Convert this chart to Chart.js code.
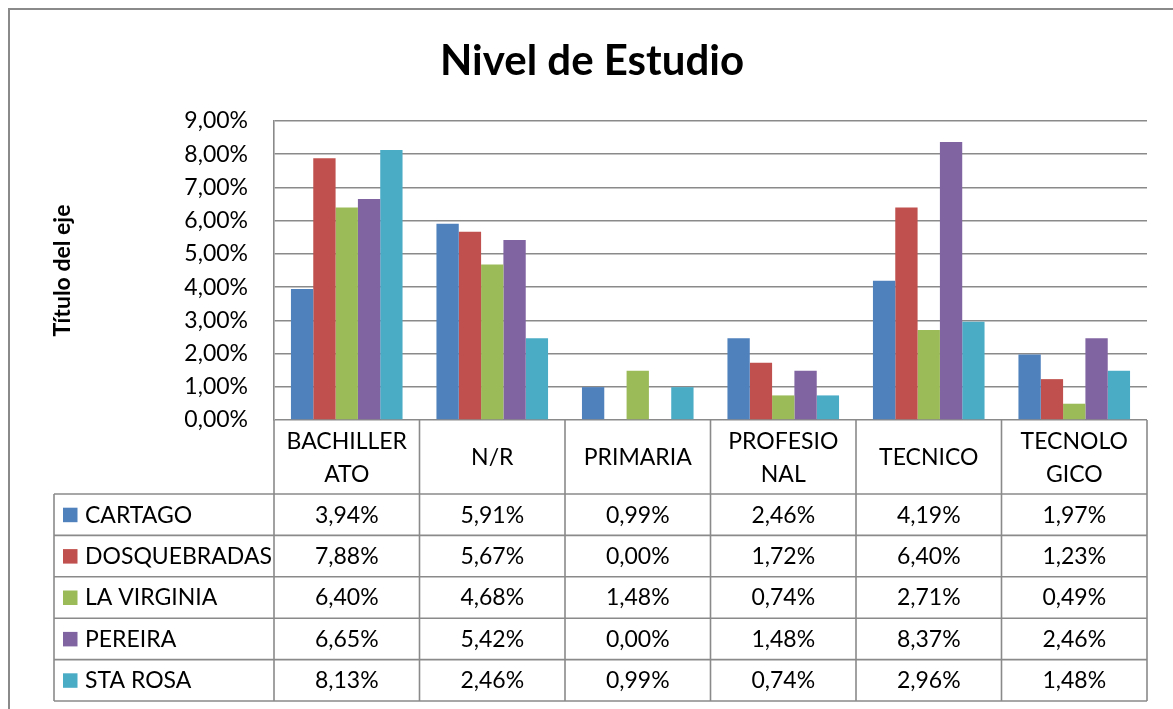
<!DOCTYPE html>
<html>
<head>
<meta charset="utf-8">
<script src="https://cdn.jsdelivr.net/npm/chart.js@4.4.1/dist/chart.umd.min.js"></script>
<style>
  html, body { margin: 0; padding: 0; background: #ffffff; }
  #wrap { width: 1173px; height: 709px; position: relative; }
</style>
</head>
<body>
<div id="wrap"><canvas id="c" width="1173" height="709"></canvas></div>
<script>
// ---- data ----
const chartTitle = "Nivel de Estudio";
const yAxisTitle = "Título del eje";
const categories = [["BACHILLER", "ATO"], ["N/R"], ["PRIMARIA"], ["PROFESIO", "NAL"], ["TECNICO"], ["TECNOLO", "GICO"]];
const seriesNames = ["CARTAGO", "DOSQUEBRADAS", "LA VIRGINIA", "PEREIRA", "STA ROSA"];
const cartago      = [3.94, 5.91, 0.99, 2.46, 4.19, 1.97];
const dosquebradas = [7.88, 5.67, 0.00, 1.72, 6.40, 1.23];
const laVirginia   = [6.40, 4.68, 1.48, 0.74, 2.71, 0.49];
const pereira      = [6.65, 5.42, 0.00, 1.48, 8.37, 2.46];
const staRosa      = [8.13, 2.46, 0.99, 0.74, 2.96, 1.48];
const seriesValues = [cartago, dosquebradas, laVirginia, pereira, staRosa];
const yTickLabels = ["0,00%", "1,00%", "2,00%", "3,00%", "4,00%", "5,00%", "6,00%", "7,00%", "8,00%", "9,00%"];

// ---- styles ----
const colors = ["#4F81BD", "#C0504D", "#9BBB59", "#8064A2", "#4BACC6"];
const lineColor = "#8a8a8a";
const FONT = "Lato, 'Open Sans', sans-serif";
const labelFontSize = 23;

function fmt(v) { return v.toFixed(2).replace(".", ",") + "%"; }

const tablePlugin = {
  id: "excelTable",
  afterDraw(chart) {
    const ctx = chart.ctx;
    const area = chart.chartArea;
    const xs = chart.scales.x;
    const n = categories.length;
    const colW = (area.right - area.left) / n;
    const headerTop = area.bottom;
    const headerBottom = 494;
    const rowH = 41.4;
    const legendLeft = 54;

    ctx.save();
    // outer frame
    ctx.strokeStyle = lineColor;
    ctx.lineWidth = 2;
    ctx.beginPath();
    ctx.moveTo(9, 709);
    ctx.lineTo(9, 9);
    ctx.lineTo(1173, 9);
    ctx.stroke();

    // title
    ctx.fillStyle = "#000";
    ctx.font = "bold 42px " + FONT;
    ctx.textAlign = "center";
    ctx.textBaseline = "middle";
    ctx.fillText(chartTitle, 592, 61);

    // y axis title
    ctx.save();
    ctx.translate(63, (area.top + area.bottom) / 2);
    ctx.rotate(-Math.PI / 2);
    ctx.font = "bold 23px " + FONT;
    ctx.fillText(yAxisTitle, 0, 0);
    ctx.restore();

    // table lines
    ctx.strokeStyle = lineColor;
    ctx.lineWidth = 1.6;
    ctx.beginPath();
    for (let i = 0; i <= n; i++) {
      const x = area.left + i * colW;
      ctx.moveTo(x, headerTop);
      ctx.lineTo(x, headerBottom + rowH * seriesNames.length);
    }
    ctx.moveTo(legendLeft, headerBottom);
    ctx.lineTo(legendLeft, headerBottom + rowH * seriesNames.length);
    for (let r = 0; r <= seriesNames.length; r++) {
      const y = headerBottom + r * rowH;
      ctx.moveTo(legendLeft, y);
      ctx.lineTo(area.right, y);
    }
    ctx.stroke();

    // header labels
    ctx.fillStyle = "#000";
    ctx.font = labelFontSize + "px " + FONT;
    ctx.textAlign = "center";
    ctx.textBaseline = "middle";
    const hMid = (headerTop + headerBottom) / 2 + 1;
    const lh = 32.7;
    categories.forEach((lines, i) => {
      const cx = xs.getPixelForValue(i);
      const y0 = hMid - (lines.length - 1) * lh / 2;
      lines.forEach((t, k) => ctx.fillText(t, cx, y0 + k * lh));
    });

    // rows
    seriesNames.forEach((name, r) => {
      const cy = headerBottom + r * rowH + rowH / 2 + 0.5;
      ctx.fillStyle = colors[r];
      ctx.fillRect(63, cy - 7.5, 14.5, 14.5);
      ctx.fillStyle = "#000";
      ctx.textAlign = "left";
      ctx.fillText(name, 85, cy);
      ctx.textAlign = "center";
      seriesValues[r].forEach((v, i) => {
        ctx.fillText(fmt(v), xs.getPixelForValue(i), cy);
      });
    });
    ctx.restore();
  }
};

const chart = new Chart(document.getElementById("c"), {
  type: "bar",
  data: {
    labels: categories.map(l => l.join("")),
    datasets: seriesNames.map((name, i) => ({
      label: name,
      data: seriesValues[i],
      backgroundColor: colors[i],
      borderWidth: 0,
      categoryPercentage: 0.767,
      barPercentage: 1.0
    }))
  },
  options: {
    responsive: false,
    animation: false,
    devicePixelRatio: 1,
    layout: { padding: { top: 121, bottom: 709 - 420, left: 0, right: 1173 - 1147 } },
    plugins: {
      legend: { display: false },
      title: { display: false },
      tooltip: { enabled: false }
    },
    scales: {
      x: { type: "category", display: false, grid: { display: false } },
      y: {
        min: 0, max: 9,
        afterFit(s) { s.width = 274; },
        ticks: {
          stepSize: 1,
          padding: 26,
          color: "#000",
          font: { family: FONT, size: labelFontSize },
          callback: (v, idx) => yTickLabels[idx] ?? fmt(v)
        },
        grid: { color: lineColor, lineWidth: 1.6, drawTicks: false },
        border: { display: true, color: lineColor, width: 1.6 }
      }
    }
  },
  plugins: [tablePlugin]
});
</script>
</body>
</html>
